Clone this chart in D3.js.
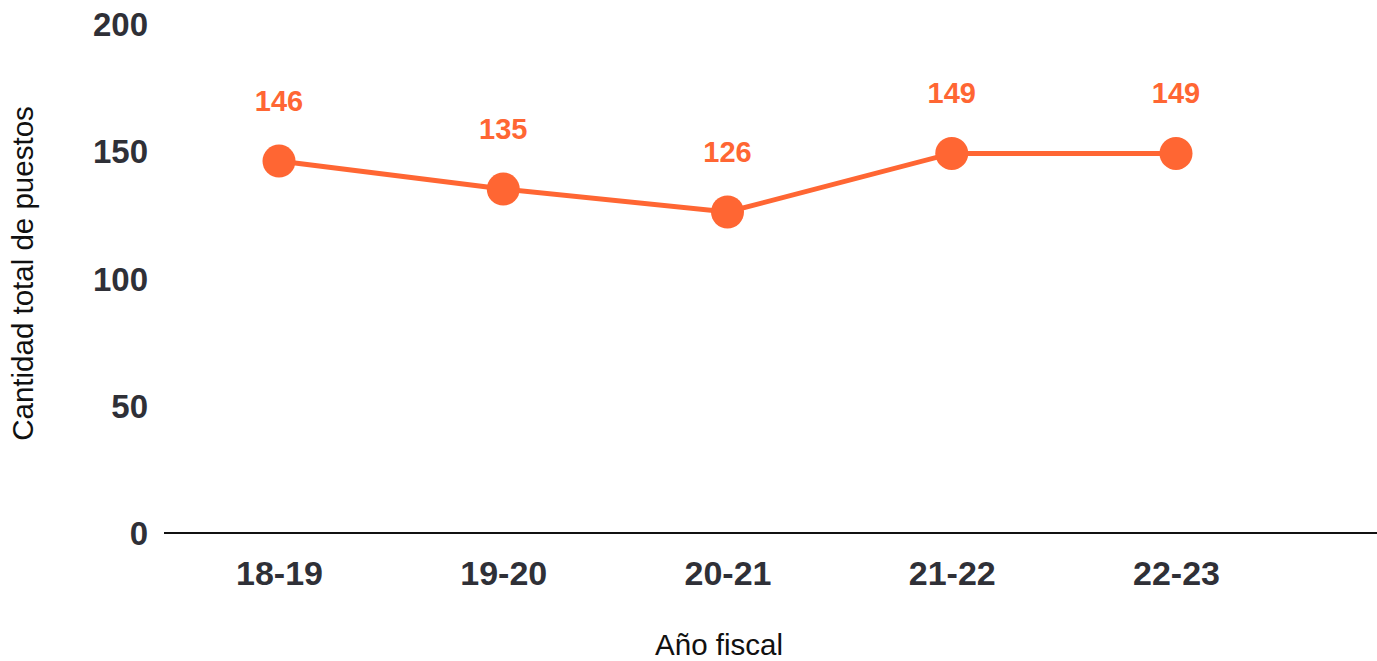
<!DOCTYPE html>
<html><head><meta charset="utf-8">
<script src="https://cdn.jsdelivr.net/npm/d3@7"></script>
<style>body{margin:0;background:#fff}svg{display:block}</style>
</head><body><svg id="c" width="1377" height="661"></svg>
<script>
const categories = ["18-19","19-20","20-21","21-22","22-23"];
const values = [146,135,126,149,149];
const yTicks = [0,50,100,150,200];

const svg = d3.select("#c");
const font = "'Liberation Sans', Arial, Helvetica, sans-serif";
const x = d3.scalePoint().domain(categories).range([279,1176]);
const y = d3.scaleLinear().domain([0,200]).range([533,23.5]);
const textCol = "#2f3037", orange = "#ff6633";

// y tick labels
const yAxis = svg.append("g").attr("transform","translate(148,0)")
  .call(d3.axisLeft(y).tickValues(yTicks).tickSize(0).tickPadding(0));
yAxis.select(".domain").remove();
yAxis.selectAll("text").attr("font-family",font).attr("font-size",33).attr("font-weight","bold").attr("fill",textCol).attr("dy","0.36em");

// x axis line
svg.append("line").attr("x1",164).attr("x2",1377).attr("y1",y(0)).attr("y2",y(0)).attr("stroke","#111").attr("stroke-width",2);
const xAxis = svg.append("g").attr("transform","translate(0,"+y(0)+")")
  .call(d3.axisBottom(x).tickSize(0).tickPadding(0));
xAxis.select(".domain").remove();
xAxis.selectAll("text").attr("font-family",font).attr("font-size",34).attr("font-weight","bold").attr("fill",textCol).attr("dy",0).attr("y",52);

// line
const line = d3.line().x((d,i)=>x(categories[i])).y(d=>y(d));
svg.append("path").datum(values).attr("d",line).attr("fill","none").attr("stroke",orange).attr("stroke-width",5);
svg.selectAll("circle.pt").data(values).join("circle").attr("class","pt")
  .attr("cx",(d,i)=>x(categories[i])).attr("cy",d=>y(d)).attr("r",16.5).attr("fill",orange);
svg.selectAll("text.lbl").data(values).join("text").attr("class","lbl")
  .attr("x",(d,i)=>x(categories[i])).attr("y",d=>y(d)-50).attr("text-anchor","middle")
  .attr("font-family",font).attr("font-size",29).attr("font-weight","bold").attr("fill",orange).text(d=>d);

// axis titles
svg.append("text").attr("x",719).attr("y",655).attr("text-anchor","middle").attr("font-family",font).attr("font-size",29.5).attr("fill","#111").text("Año fiscal");
svg.append("text").attr("transform","translate(33,273.5) rotate(-90)").attr("text-anchor","middle").attr("font-family",font).attr("font-size",29.5).attr("fill","#111").text("Cantidad total de puestos");
</script></body></html>
